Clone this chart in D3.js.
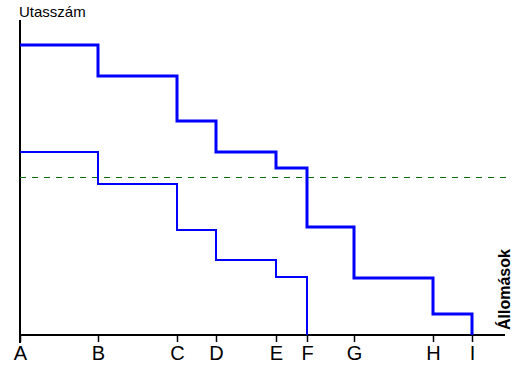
<!DOCTYPE html>
<html>
<head>
<meta charset="utf-8">
<script src="https://cdn.jsdelivr.net/npm/d3@7"></script>
<style>
  body { margin: 0; background: #fff; }
  text { font-family: "Liberation Sans", Arial, sans-serif; }
</style>
</head>
<body>
<div id="chart"></div>
<script>
// stations and their distance along the route
let stations = ['A', 'B', 'C', 'D', 'E', 'F', 'G', 'H', 'I'];
let distances = [0, 78, 157, 196, 256, 287, 334, 413, 452];

// passengers on board after each station (thick line)
let passengersTotal = [290, 259, 214, 183, 167, 108, 57, 21, 0];
// passengers of the second group (thin line), ends at F
let passengersPart = [183, 151, 105, 75, 58, 0];
// reference level (dashed)
let limitValue = 158;

let width = 522, height = 375;

let svg = d3.select('#chart').append('svg')
    .attr('width', width)
    .attr('height', height);

let x = d3.scaleLinear().domain([0, 485]).range([20, 505]);
let y = d3.scaleLinear().domain([0, 315]).range([335, 20]);

// axes
let axisX = d3.axisBottom(x)
    .tickValues(distances)
    .tickFormat(function(d, i) { return stations[i]; })
    .tickSize(7)
    .tickSizeOuter(0);

let gx = svg.append('g')
    .attr('transform', 'translate(0,' + y(0) + ')')
    .call(axisX);
gx.select('.domain').attr('stroke', '#000').attr('stroke-width', 2)
    .attr('d', 'M' + x(0) + ',0H' + x(485));
gx.selectAll('.tick line').attr('stroke', '#000').attr('stroke-width', 1.5);
gx.selectAll('.tick text')
    .attr('fill', '#000')
    .attr('font-size', 20)
    .attr('y', 11);

svg.append('line')
    .attr('x1', x(0)).attr('x2', x(0))
    .attr('y1', y(315)).attr('y2', y(0) + 8)
    .attr('stroke', '#000').attr('stroke-width', 2);

// dashed reference level
svg.append('line')
    .attr('x1', x(0)).attr('x2', x(486))
    .attr('y1', y(limitValue) + 0.5).attr('y2', y(limitValue) + 0.5)
    .attr('stroke', '#0a6e0a')
    .attr('stroke-width', 1)
    .attr('shape-rendering', 'crispEdges')
    .attr('stroke-dasharray', '6,6');

let step = d3.line()
    .x(function(d) { return x(d[0]); })
    .y(function(d) { return y(d[1]); })
    .curve(d3.curveStepAfter);

svg.append('path')
    .attr('d', step(passengersPart.map(function(v, i) { return [distances[i], v]; })))
    .attr('fill', 'none')
    .attr('stroke', '#0000ff')
    .attr('stroke-width', 2);

svg.append('path')
    .attr('d', step(passengersTotal.map(function(v, i) { return [distances[i], v]; })))
    .attr('fill', 'none')
    .attr('stroke', '#0000ff')
    .attr('stroke-width', 3);

// axis titles
svg.append('text')
    .attr('x', 19).attr('y', 17)
    .attr('font-size', 15)
    .text('Utasszám');

svg.append('text')
    .attr('transform', 'translate(510,330) rotate(-90)')
    .attr('font-size', 16)
    .attr('font-weight', 'bold')
    .text('Állomások');
</script>
</body>
</html>
